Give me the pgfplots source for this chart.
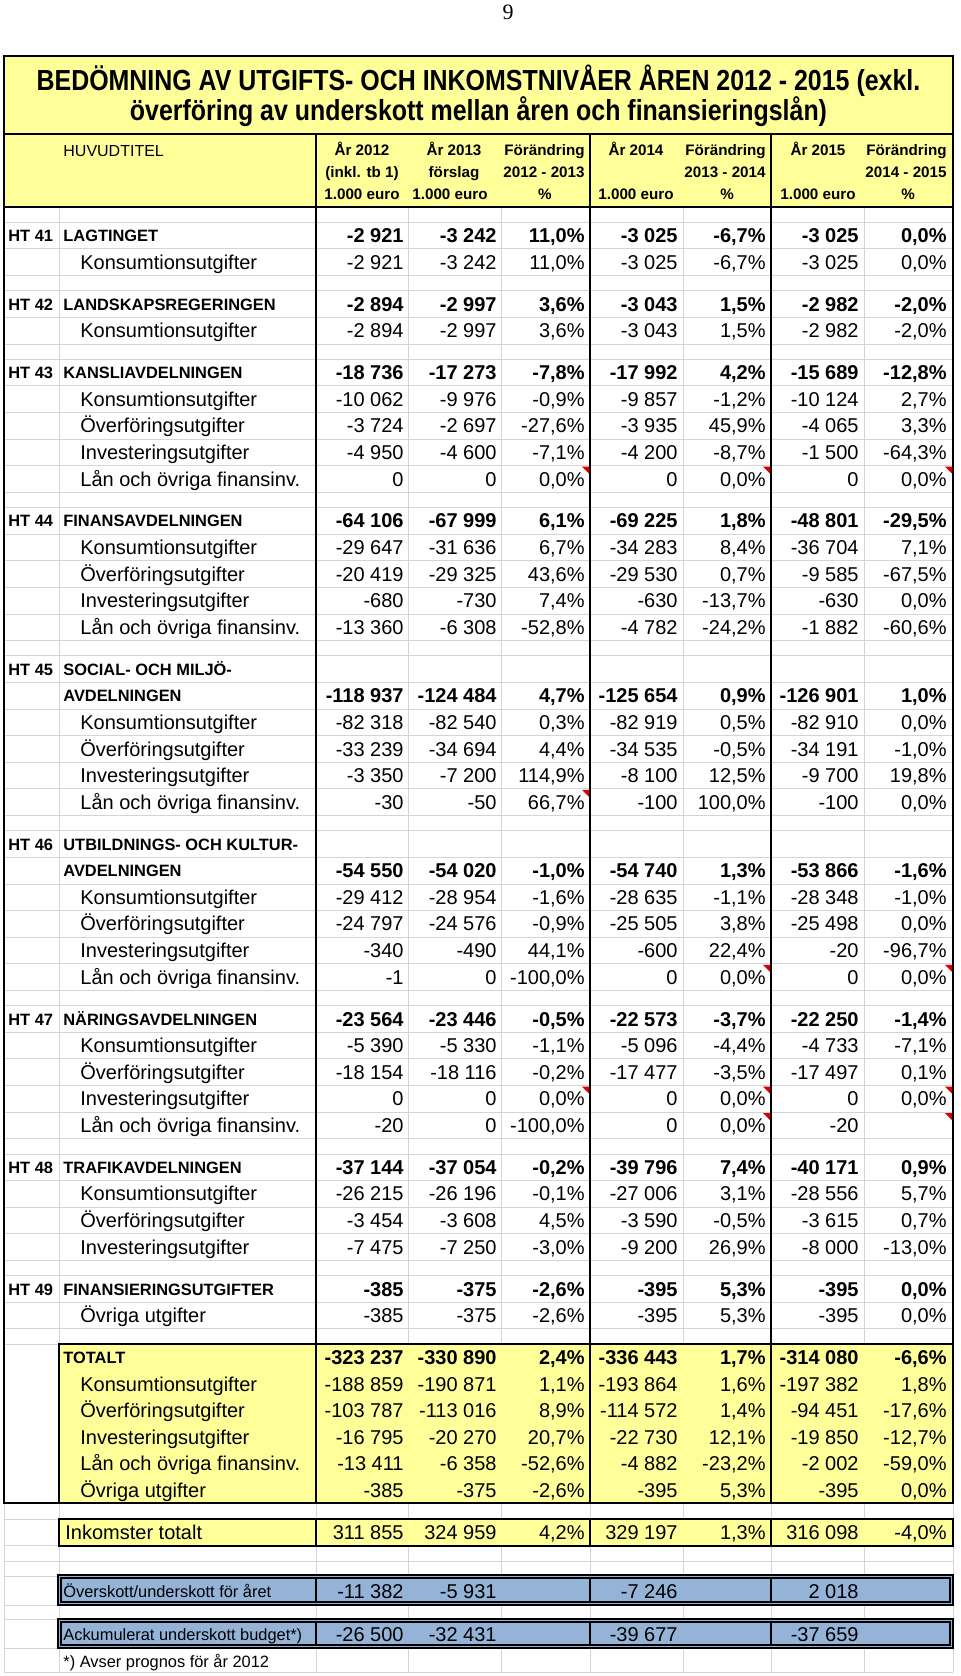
\documentclass[border=0pt]{standalone}
\usepackage{pgfplots}
\pgfplotsset{compat=1.18}
\usepackage{fontspec}
\setmainfont{Liberation Sans}
\newfontfamily\serif{Liberation Serif}
\newfontfamily\narrow[FakeStretch=0.86]{Liberation Sans}
\definecolor{xlyellow}{RGB}{255,255,153}
\definecolor{xlblue}{RGB}{149,179,215}
\definecolor{xlgrid}{RGB}{212,212,212}

\tikzset{
  num/.style={anchor=base east, inner sep=0pt, font=\fontsize{10}{12}\selectfont},
  numb/.style={anchor=base east, inner sep=0pt, font=\fontsize{10}{12}\selectfont\bfseries},
  lbl/.style={anchor=base west, inner sep=0pt, font=\fontsize{10}{12}\selectfont},
  sec/.style={anchor=base west, inner sep=0pt, font=\fontsize{8.2}{10}\selectfont\bfseries},
  small/.style={anchor=base west, inner sep=0pt, font=\fontsize{8.2}{10}\selectfont},
  hd/.style={anchor=base, inner sep=0pt, font=\fontsize{7.6}{9}\selectfont\bfseries},
  hdr/.style={anchor=base east, inner sep=0pt, font=\fontsize{7.6}{9}\selectfont\bfseries},
  gridl/.style={xlgrid, line width=0.5pt},
  blk/.style={black, line width=1pt},
}

% value rows: y centre, then seven cells
\newcommand\VR[8]{%
  \node[num] at (axis cs:404,{#1+7}) {#2};
  \node[num] at (axis cs:497,{#1+7}) {#3};
  \node[num] at (axis cs:585,{#1+7}) {#4};
  \node[num] at (axis cs:678,{#1+7}) {#5};
  \node[num] at (axis cs:766,{#1+7}) {#6};
  \node[num] at (axis cs:859,{#1+7}) {#7};
  \node[num] at (axis cs:947,{#1+7}) {#8};}
\newcommand\VB[8]{%
  \node[numb] at (axis cs:404,{#1+7}) {#2};
  \node[numb] at (axis cs:497,{#1+7}) {#3};
  \node[numb] at (axis cs:585,{#1+7}) {#4};
  \node[numb] at (axis cs:678,{#1+7}) {#5};
  \node[numb] at (axis cs:766,{#1+7}) {#6};
  \node[numb] at (axis cs:859,{#1+7}) {#7};
  \node[numb] at (axis cs:947,{#1+7}) {#8};}
\newcommand\lab[2]{\node[lbl] at (axis cs:80,{#1+7}) {#2};}
\newcommand\HT[3]{%
  \node[sec] at (axis cs:8,{#1+6}) {#2};
  \node[sec] at (axis cs:63,{#1+6}) {#3};}
\newcommand\tri[2]{\fill[red!85!black] (axis cs:#1-1,#2+1) -- (axis cs:#1-8,#2+1) -- (axis cs:#1-1,#2+8) -- cycle;}

\begin{document}
\begin{tikzpicture}
\begin{axis}[width=480pt, height=838pt, scale only axis,
    xmin=0, xmax=960, ymin=0, ymax=1676, y dir=reverse,
    hide axis, clip=false]
\fill[white] (axis cs:0,0) rectangle (axis cs:960,1676);

% light spreadsheet grid
\pgfplotsinvokeforeach{207,222.3,248.9,275.5,290.8,317.4,344.0,359.3,385.9,412.5,439.1,465.7,492.3,507.6,534.2,560.8,587.4,614.0,640.6,655.9,682.5,709.1,735.7,762.3,788.9,815.5,830.8,857.4,884.0,910.6,937.2,963.8,990.4,1005.7,1032.3,1058.9,1085.5,1112.1,1138.7,1154.0,1180.6,1207.2,1233.8,1260.4,1275.7,1302.3,1328.9,1344.2,1519,1545.7,1561,1576,1605,1619,1648,1672}{
  \draw[gridl] (axis cs:4,#1) -- (axis cs:953,#1);}
\pgfplotsinvokeforeach{4,59,316,408,501,590,683,771,864,953}{
  \draw[gridl] (axis cs:#1,207) -- (axis cs:#1,1672);}

% title and header block
\fill[xlyellow] (axis cs:4,56) rectangle (axis cs:953,207);
\draw[black, line width=0.9pt] (axis cs:4,56) rectangle (axis cs:953,1503);
\draw[black, line width=0.8pt] (axis cs:4,134) -- (axis cs:953,134);
\draw[blk] (axis cs:4,207) -- (axis cs:953,207);
\pgfplotsinvokeforeach{316,590,771}{
  \draw[blk] (axis cs:#1,134) -- (axis cs:#1,1503);}

% totals box
\fill[xlyellow] (axis cs:59,1344) rectangle (axis cs:953,1503);
\draw[black, line width=0.9pt] (axis cs:59,1344) rectangle (axis cs:953,1503);
\fill[xlyellow] (axis cs:59,1519) rectangle (axis cs:953,1545.7);
\draw[black, line width=0.9pt] (axis cs:59,1519) rectangle (axis cs:953,1545.7);
\pgfplotsinvokeforeach{316,590,771}{
  \draw[blk] (axis cs:#1,1344) -- (axis cs:#1,1503);
  \draw[black, line width=0.7pt] (axis cs:#1,1519) -- (axis cs:#1,1545.7);}

% blue result boxes
\fill[xlblue] (axis cs:58,1575) rectangle (axis cs:953,1605);
\fill[xlblue] (axis cs:58,1619) rectangle (axis cs:953,1648);
\draw[black, line width=0.8pt] (axis cs:58,1575) rectangle (axis cs:953,1605);
\draw[black, line width=0.6pt] (axis cs:61,1578) rectangle (axis cs:950,1602);
\draw[black, line width=0.8pt] (axis cs:58,1619) rectangle (axis cs:953,1648);
\draw[black, line width=0.6pt] (axis cs:61,1622) rectangle (axis cs:950,1645);
\pgfplotsinvokeforeach{316,590,771}{
  \draw[black, line width=0.8pt] (axis cs:#1,1578) -- (axis cs:#1,1602);
  \draw[black, line width=0.8pt] (axis cs:#1,1622) -- (axis cs:#1,1645);}

% comment markers
\tri{590}{465.7} \tri{771}{465.7} \tri{953}{465.7}
\tri{590}{788.9}
\tri{771}{963.8} \tri{953}{963.8}
\tri{590}{1085.5} \tri{771}{1085.5} \tri{953}{1085.5}
\tri{771}{1112.1} \tri{953}{1112.1}

% page number and title
\node[anchor=base, inner sep=0pt, font=\serif\fontsize{11}{13}\selectfont] at (axis cs:508,19) {9};
\node[anchor=base, inner sep=0pt, font=\narrow\fontsize{14.5}{16}\selectfont\bfseries] at (axis cs:478.5,90)
  {BEDÖMNING AV UTGIFTS- OCH INKOMSTNIVÅER ÅREN 2012 - 2015 (exkl.};
\node[anchor=base, inner sep=0pt, font=\narrow\fontsize{14.5}{16}\selectfont\bfseries] at (axis cs:478.5,120)
  {överföring av underskott mellan åren och finansieringslån)};

% column headers
\node[anchor=base west, inner sep=0pt, font=\fontsize{8}{9}\selectfont] at (axis cs:63,156) {HUVUDTITEL};
\node[hd] at (axis cs:362,155.5) {År 2012};
\node[hd] at (axis cs:362,177.5) {(inkl. tb 1)};
\node[hd] at (axis cs:362,199.5) {1.000 euro};
\node[hd] at (axis cs:454,155.5) {År 2013};
\node[hd] at (axis cs:454,177.5) {förslag};
\node[hd] at (axis cs:450,199.5) {1.000 euro};
\node[hdr] at (axis cs:585,155.5) {Förändring};
\node[hdr] at (axis cs:585,177.5) {2012 - 2013};
\node[hd] at (axis cs:545,199.5) {\%};
\node[hd] at (axis cs:636,155.5) {År 2014};
\node[hd] at (axis cs:636,199.5) {1.000 euro};
\node[hdr] at (axis cs:766,155.5) {Förändring};
\node[hdr] at (axis cs:766,177.5) {2013 - 2014};
\node[hd] at (axis cs:727,199.5) {\%};
\node[hd] at (axis cs:818,155.5) {År 2015};
\node[hd] at (axis cs:818,199.5) {1.000 euro};
\node[hdr] at (axis cs:947,155.5) {Förändring};
\node[hdr] at (axis cs:947,177.5) {2014 - 2015};
\node[hd] at (axis cs:908,199.5) {\%};

% HT 41
\HT{235.6}{HT 41}{LAGTINGET}
\VB{235.6}{-2 921}{-3 242}{11,0\%}{-3 025}{-6,7\%}{-3 025}{0,0\%}
\lab{262.2}{Konsumtionsutgifter}
\VR{262.2}{-2 921}{-3 242}{11,0\%}{-3 025}{-6,7\%}{-3 025}{0,0\%}
% HT 42
\HT{304.1}{HT 42}{LANDSKAPSREGERINGEN}
\VB{304.1}{-2 894}{-2 997}{3,6\%}{-3 043}{1,5\%}{-2 982}{-2,0\%}
\lab{330.7}{Konsumtionsutgifter}
\VR{330.7}{-2 894}{-2 997}{3,6\%}{-3 043}{1,5\%}{-2 982}{-2,0\%}
% HT 43
\HT{372.6}{HT 43}{KANSLIAVDELNINGEN}
\VB{372.6}{-18 736}{-17 273}{-7,8\%}{-17 992}{4,2\%}{-15 689}{-12,8\%}
\lab{399.2}{Konsumtionsutgifter}
\VR{399.2}{-10 062}{-9 976}{-0,9\%}{-9 857}{-1,2\%}{-10 124}{2,7\%}
\lab{425.8}{Överföringsutgifter}
\VR{425.8}{-3 724}{-2 697}{-27,6\%}{-3 935}{45,9\%}{-4 065}{3,3\%}
\lab{452.4}{Investeringsutgifter}
\VR{452.4}{-4 950}{-4 600}{-7,1\%}{-4 200}{-8,7\%}{-1 500}{-64,3\%}
\lab{479.0}{Lån och övriga finansinv.}
\VR{479.0}{0}{0}{0,0\%}{0}{0,0\%}{0}{0,0\%}
% HT 44
\HT{520.9}{HT 44}{FINANSAVDELNINGEN}
\VB{520.9}{-64 106}{-67 999}{6,1\%}{-69 225}{1,8\%}{-48 801}{-29,5\%}
\lab{547.5}{Konsumtionsutgifter}
\VR{547.5}{-29 647}{-31 636}{6,7\%}{-34 283}{8,4\%}{-36 704}{7,1\%}
\lab{574.1}{Överföringsutgifter}
\VR{574.1}{-20 419}{-29 325}{43,6\%}{-29 530}{0,7\%}{-9 585}{-67,5\%}
\lab{600.7}{Investeringsutgifter}
\VR{600.7}{-680}{-730}{7,4\%}{-630}{-13,7\%}{-630}{0,0\%}
\lab{627.3}{Lån och övriga finansinv.}
\VR{627.3}{-13 360}{-6 308}{-52,8\%}{-4 782}{-24,2\%}{-1 882}{-60,6\%}
% HT 45
\HT{669.2}{HT 45}{SOCIAL- OCH MILJÖ-}
\node[sec] at (axis cs:63,{695.8+6}) {AVDELNINGEN};
\VB{695.8}{-118 937}{-124 484}{4,7\%}{-125 654}{0,9\%}{-126 901}{1,0\%}
\lab{722.4}{Konsumtionsutgifter}
\VR{722.4}{-82 318}{-82 540}{0,3\%}{-82 919}{0,5\%}{-82 910}{0,0\%}
\lab{749.0}{Överföringsutgifter}
\VR{749.0}{-33 239}{-34 694}{4,4\%}{-34 535}{-0,5\%}{-34 191}{-1,0\%}
\lab{775.6}{Investeringsutgifter}
\VR{775.6}{-3 350}{-7 200}{114,9\%}{-8 100}{12,5\%}{-9 700}{19,8\%}
\lab{802.2}{Lån och övriga finansinv.}
\VR{802.2}{-30}{-50}{66,7\%}{-100}{100,0\%}{-100}{0,0\%}
% HT 46
\HT{844.1}{HT 46}{UTBILDNINGS- OCH KULTUR-}
\node[sec] at (axis cs:63,{870.7+6}) {AVDELNINGEN};
\VB{870.7}{-54 550}{-54 020}{-1,0\%}{-54 740}{1,3\%}{-53 866}{-1,6\%}
\lab{897.3}{Konsumtionsutgifter}
\VR{897.3}{-29 412}{-28 954}{-1,6\%}{-28 635}{-1,1\%}{-28 348}{-1,0\%}
\lab{923.9}{Överföringsutgifter}
\VR{923.9}{-24 797}{-24 576}{-0,9\%}{-25 505}{3,8\%}{-25 498}{0,0\%}
\lab{950.5}{Investeringsutgifter}
\VR{950.5}{-340}{-490}{44,1\%}{-600}{22,4\%}{-20}{-96,7\%}
\lab{977.1}{Lån och övriga finansinv.}
\VR{977.1}{-1}{0}{-100,0\%}{0}{0,0\%}{0}{0,0\%}
% HT 47
\HT{1019.0}{HT 47}{NÄRINGSAVDELNINGEN}
\VB{1019.0}{-23 564}{-23 446}{-0,5\%}{-22 573}{-3,7\%}{-22 250}{-1,4\%}
\lab{1045.6}{Konsumtionsutgifter}
\VR{1045.6}{-5 390}{-5 330}{-1,1\%}{-5 096}{-4,4\%}{-4 733}{-7,1\%}
\lab{1072.2}{Överföringsutgifter}
\VR{1072.2}{-18 154}{-18 116}{-0,2\%}{-17 477}{-3,5\%}{-17 497}{0,1\%}
\lab{1098.8}{Investeringsutgifter}
\VR{1098.8}{0}{0}{0,0\%}{0}{0,0\%}{0}{0,0\%}
\lab{1125.4}{Lån och övriga finansinv.}
\VR{1125.4}{-20}{0}{-100,0\%}{0}{0,0\%}{-20}{}
% HT 48
\HT{1167.3}{HT 48}{TRAFIKAVDELNINGEN}
\VB{1167.3}{-37 144}{-37 054}{-0,2\%}{-39 796}{7,4\%}{-40 171}{0,9\%}
\lab{1193.9}{Konsumtionsutgifter}
\VR{1193.9}{-26 215}{-26 196}{-0,1\%}{-27 006}{3,1\%}{-28 556}{5,7\%}
\lab{1220.5}{Överföringsutgifter}
\VR{1220.5}{-3 454}{-3 608}{4,5\%}{-3 590}{-0,5\%}{-3 615}{0,7\%}
\lab{1247.1}{Investeringsutgifter}
\VR{1247.1}{-7 475}{-7 250}{-3,0\%}{-9 200}{26,9\%}{-8 000}{-13,0\%}
% HT 49
\HT{1289.0}{HT 49}{FINANSIERINGSUTGIFTER}
\VB{1289.0}{-385}{-375}{-2,6\%}{-395}{5,3\%}{-395}{0,0\%}
\lab{1315.6}{Övriga utgifter}
\VR{1315.6}{-385}{-375}{-2,6\%}{-395}{5,3\%}{-395}{0,0\%}
% totals
\node[sec] at (axis cs:63,{1357.5+6}) {TOTALT};
\VB{1357.5}{-323 237}{-330 890}{2,4\%}{-336 443}{1,7\%}{-314 080}{-6,6\%}
\lab{1384.1}{Konsumtionsutgifter}
\VR{1384.1}{-188 859}{-190 871}{1,1\%}{-193 864}{1,6\%}{-197 382}{1,8\%}
\lab{1410.7}{Överföringsutgifter}
\VR{1410.7}{-103 787}{-113 016}{8,9\%}{-114 572}{1,4\%}{-94 451}{-17,6\%}
\lab{1437.3}{Investeringsutgifter}
\VR{1437.3}{-16 795}{-20 270}{20,7\%}{-22 730}{12,1\%}{-19 850}{-12,7\%}
\lab{1463.9}{Lån och övriga finansinv.}
\VR{1463.9}{-13 411}{-6 358}{-52,6\%}{-4 882}{-23,2\%}{-2 002}{-59,0\%}
\lab{1490.5}{Övriga utgifter}
\VR{1490.5}{-385}{-375}{-2,6\%}{-395}{5,3\%}{-395}{0,0\%}
% income
\node[lbl] at (axis cs:65,{1532.4+7}) {Inkomster totalt};
\VR{1532.4}{311 855}{324 959}{4,2\%}{329 197}{1,3\%}{316 098}{-4,0\%}
% result rows
\node[small] at (axis cs:63,{1591+6}) {Överskott/underskott för året};
\VR{1591}{-11 382}{-5 931}{}{-7 246}{}{2 018}{}
\node[small] at (axis cs:63,{1634+6}) {Ackumulerat underskott budget*)};
\VR{1634}{-26 500}{-32 431}{}{-39 677}{}{-37 659}{}
\node[small] at (axis cs:63,{1661+6}) {*) Avser prognos för år 2012};
\end{axis}
\end{tikzpicture}
\end{document}
